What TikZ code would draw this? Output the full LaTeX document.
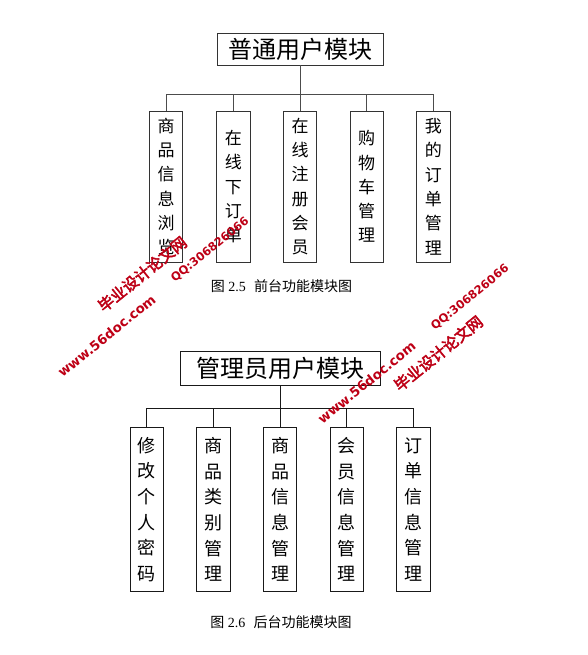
\documentclass[tikz,border=0pt]{standalone}
\usepackage{fontspec}
\setmainfont{Liberation Serif}
\newfontfamily\cjk{Noto Sans CJK SC}
\newfontfamily\cjkwm{Noto Sans CJK SC}[FakeBold=3]
\newfontfamily\wmfont{DejaVu Sans}
\definecolor{wmred}{RGB}{190,0,22}
\tikzset{
  titlebox/.style={draw=#1, line width=0.9pt, inner sep=0pt, font=\cjk\fontsize{24}{26}\selectfont},
  subbox/.style={draw=#1, line width=0.9pt, inner sep=0pt, minimum width=33.3pt, anchor=north, align=center},
  conn/.style={draw=#1, line width=0.9pt},
  captext/.style={font=\fontsize{14}{16}\selectfont, inner sep=0pt},
  wmcn/.style={text=wmred, rotate=39, inner sep=0pt, font=\cjkwm\fontsize{15.5}{16}\selectfont},
  wmlat/.style={text=wmred, rotate=39, inner sep=0pt, font=\wmfont\bfseries\fontsize{#1}{#1}\selectfont}
}
\begin{document}
\begin{tikzpicture}[x=1pt, y=-1pt]
\useasboundingbox[fill=white] (0,0) rectangle (587,655);
% ---------- top diagram ----------
\node[titlebox=black!80, minimum width=166pt, minimum height=32pt] (t1) at (300,49) {普通用户模块};
\coordinate (bar1) at (300,94);
\foreach \i/\x/\txt in {1/166/{商\\品\\信\\息\\浏\\览}, 2/233.3/{在\\线\\下\\订\\单}, 3/300/{在\\线\\注\\册\\会\\员}, 4/366.7/{购\\物\\车\\管\\理}, 5/433.3/{我\\的\\订\\单\\管\\理}}{
  \node[subbox=black!80, minimum height=151pt, font=\cjk\fontsize{17}{24.3}\selectfont] (a\i) at (\x,110.7) {\txt};
}
\draw[conn=black!70] (t1.south) -- (bar1);
\draw[conn=black!70] (a1.north) -- (a1.north |- bar1) -- (a5.north |- bar1) -- (a5.north);
\foreach \i in {2,3,4}{\draw[conn=black!70] (a\i.north) -- (a\i.north |- bar1);}
\node[captext] (cap1) at (281.5,286) {{\cjk 图} 2.5\hspace{0.6em}{\cjk 前台功能模块图}};
% ---------- bottom diagram ----------
\node[titlebox=black!90, minimum width=200pt, minimum height=33.3pt] (t2) at (280,368.3) {管理员用户模块};
\coordinate (bar2) at (280,408.7);
\foreach \i/\x/\txt in {1/146.7/{修\\改\\个\\人\\密\\码}, 2/213.3/{商\\品\\类\\别\\管\\理}, 3/280/{商\\品\\信\\息\\管\\理}, 4/346.7/{会\\员\\信\\息\\管\\理}, 5/413.3/{订\\单\\信\\息\\管\\理}}{
  \node[subbox=black!90, minimum height=164pt, font=\cjk\fontsize{18}{25.7}\selectfont] (b\i) at (\x,427) {\txt};
}
\draw[conn=black!90] (t2.south) -- (bar2);
\draw[conn=black!90] (b1.north) -- (b1.north |- bar2) -- (b5.north |- bar2) -- (b5.north);
\foreach \i in {2,3,4}{\draw[conn=black!90] (b\i.north) -- (b\i.north |- bar2);}
\node[captext] (cap2) at (281,622) {{\cjk 图} 2.6\hspace{0.6em}{\cjk 后台功能模块图}};
% ---------- watermarks ----------
\node[wmcn] (w1) at (142.3,274) {毕业设计论文网};
\node[wmlat=11.5] (w2) at (210,250) {QQ:306826066};
\node[wmlat=13.2] (w3) at (106.7,335.8) {www.56doc.com};
\node[wmlat=11.5] (w4) at (470,297.5) {QQ:306826066};
\node[wmcn] (w5) at (438.3,353.3) {毕业设计论文网};
\node[wmlat=13.2] (w6) at (366.7,382.5) {www.56doc.com};
\end{tikzpicture}
\end{document}
